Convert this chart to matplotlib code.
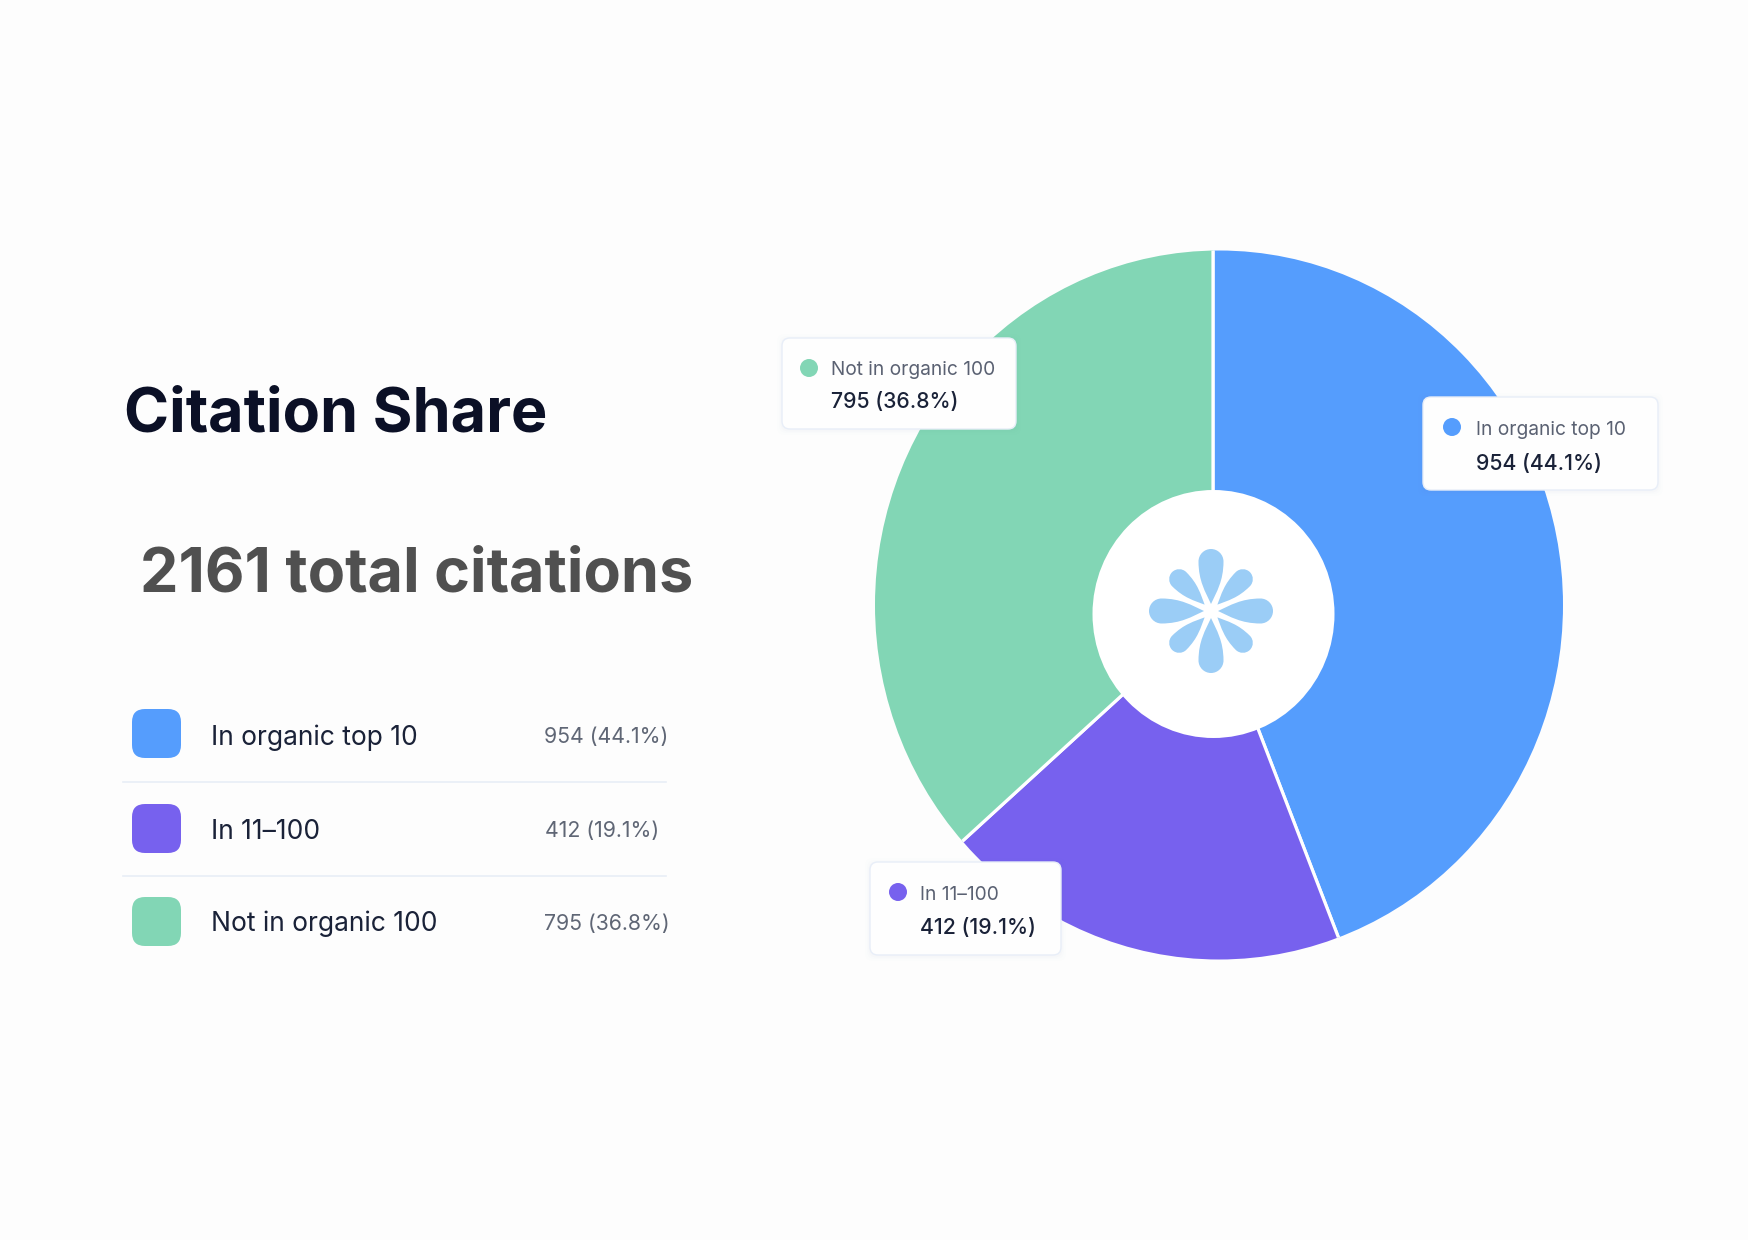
import matplotlib
matplotlib.use("Agg")
import matplotlib.pyplot as plt
from matplotlib.patches import Ellipse, FancyBboxPatch, PathPatch, Circle
from matplotlib.path import Path
from matplotlib.transforms import Affine2D

categories = ["In organic top 10", "In 11–100", "Not in organic 100"]
counts = [954, 412, 795]
shares = [44.1, 19.1, 36.8]
colors = ["#559DFD", "#7761EE", "#82D6B5"]
title = "Citation Share"
subtitle = "2161 total citations"

W, H = 1748, 1240
plt.rcParams["font.family"] = ["Inter", "DejaVu Sans"]
fig = plt.figure(figsize=(W / 100, H / 100), dpi=100, facecolor="#FDFDFD")
ax = fig.add_axes([0, 0, 1, 1])
Y = lambda py: H - py

wedges, _ = ax.pie(counts, colors=colors, startangle=90, counterclock=False,
                   center=(1213, Y(612)), radius=520,
                   wedgeprops=dict(edgecolor="white", linewidth=2.3))
outer = Ellipse((1219, Y(605)), 688, 709, facecolor="none", edgecolor="none")
ax.add_patch(outer)
ax.set_xlim(0, W)
ax.set_ylim(0, H)
ax.set_aspect("auto")
ax.axis("off")
for w in wedges:
    w.set_clip_on(True)
    w.set_clip_path(outer)

ax.add_patch(Ellipse((1213.5, Y(614)), 242, 248, facecolor="white", edgecolor="none", zorder=3))

# flower mark
def petal(length, width, tip):
    hw = width / 2
    span = length - tip
    return Path([(0, tip), (hw * 0.45, tip + span * 0.22), (hw, tip + span * 0.42), (hw, length - hw),
                 (hw, length - hw * 0.45), (hw * 0.55, length), (0, length),
                 (-hw * 0.55, length), (-hw, length - hw * 0.45), (-hw, length - hw),
                 (-hw, tip + span * 0.42), (-hw * 0.45, tip + span * 0.22), (0, tip)],
                [Path.MOVETO] + [Path.CURVE4] * 12)
fc = (1211, Y(611))
for ang in range(0, 360, 45):
    p = petal(62, 25, 7) if ang % 90 == 0 else petal(55, 20, 9)
    tr = Affine2D().rotate_deg(ang).translate(*fc) + ax.transData
    ax.add_patch(PathPatch(p, facecolor="#9BCDF6", edgecolor="none", transform=tr, zorder=4))

# headline
ax.text(124, Y(431), title, fontsize=44, fontweight="bold", color="#0B1026", va="baseline", ha="left")
ax.text(140, Y(591), subtitle, fontsize=44, fontweight="bold", color="#505050", va="baseline", ha="left")

# legend list
swatch_top = [709, 804, 897]
text_base = [745, 839, 931]
val_base = [743, 837, 930]
val_x = [544.5, 545, 544.5]
for i, c in enumerate(categories):
    ax.add_patch(FancyBboxPatch((132, Y(swatch_top[i] + 49)), 49, 49,
                                boxstyle="round,pad=0,rounding_size=13", facecolor=colors[i], edgecolor="none"))
    ax.text(211, Y(text_base[i]), c, fontsize=19, color="#1A2238", va="baseline", ha="left")
    ax.text(val_x[i], Y(val_base[i]), f"{counts[i]} ({shares[i]}%)", fontsize=15.3, color="#5F6675", va="baseline", ha="left")
for yy in (782, 875.5):
    ax.plot([123, 666], [Y(yy), Y(yy)], color="#E8EEF6", lw=1.2)

# callouts
boxes = {0: (1423, 397, 1658, 490, 1452, 427, 1476, 435, 470),
         1: (870, 862, 1061, 955, 898, 892, 920, 900, 934),
         2: (782, 338, 1016, 429, 809, 368, 831, 375, 408)}
for i, (x0, y0, x1, y1, dx, dy, tx, tb, vb) in boxes.items():
    for k, a in ((5, .008), (3, .012), (1.5, .018)):
        ax.add_patch(FancyBboxPatch((x0 + 8 - k, Y(y1) + 8 - k - 1), x1 - x0 - 16 + 2 * k, y1 - y0 - 16 + 2 * k,
                                    boxstyle="round,pad=8,rounding_size=8", facecolor="#6080B0", alpha=a,
                                    edgecolor="none", zorder=5))
    ax.add_patch(FancyBboxPatch((x0 + 8, Y(y1) + 8), x1 - x0 - 16, y1 - y0 - 16,
                                boxstyle="round,pad=8,rounding_size=8", facecolor="#FEFEFE",
                                edgecolor="#E8EEF8", lw=1, zorder=6))
    ax.add_patch(Circle((dx, Y(dy)), 9, facecolor=colors[i], edgecolor="none", zorder=7))
    ax.text(tx, Y(tb), categories[i], fontsize=13.8, color="#5A6172", va="baseline", ha="left", zorder=7)
    ax.text(tx, Y(vb), f"{counts[i]} ({shares[i]}%)", fontsize=15.3, fontweight="medium", color="#1A2238",
            va="baseline", ha="left", zorder=7)

fig.savefig("out.png", dpi=100, facecolor=fig.get_facecolor())
